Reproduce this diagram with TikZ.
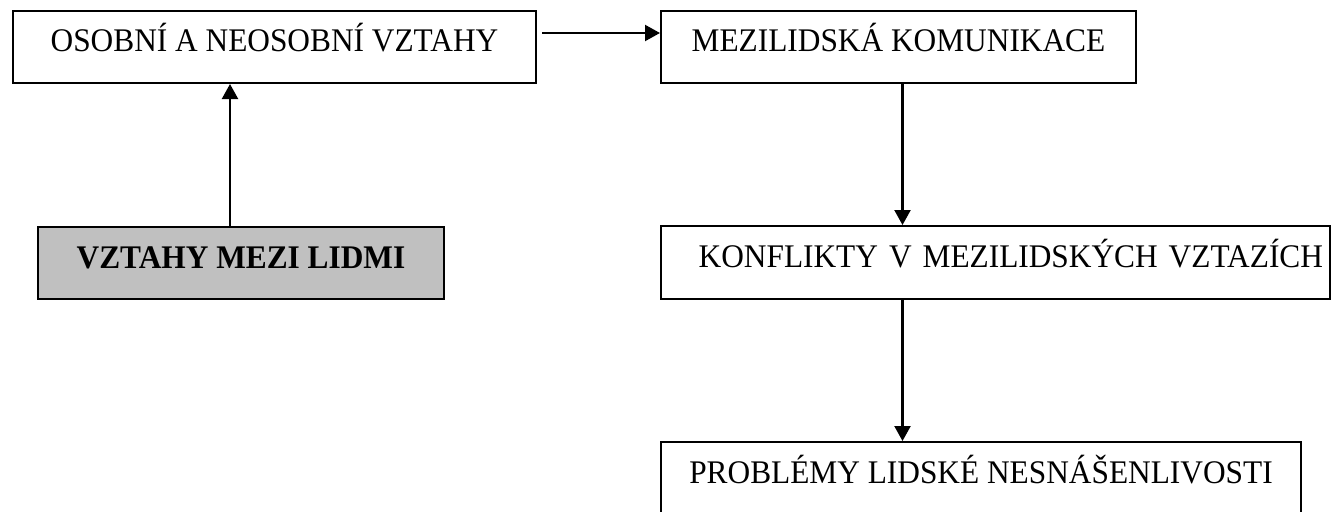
\documentclass[tikz,border=0pt]{standalone}
\usepackage{fontspec}
\setmainfont[FakeStretch=0.95]{Liberation Serif}
\usetikzlibrary{arrows.meta}
\begin{document}
\begin{tikzpicture}[x=1pt,y=-1pt,
  box/.style={draw=black, line width=2pt, inner sep=0pt, text height=41pt, text depth=31pt,
    font=\fontsize{33}{38}\selectfont},
  arr/.style={line width=2.2pt, -{Triangle[length=15pt,width=16pt]}}]
\clip (0,0) rectangle (1332,511);
\useasboundingbox (0,0) rectangle (1332,511);
\node[box, minimum width=523pt] (osobni) at (274.5,47) {OSOBNÍ A NEOSOBNÍ VZTAHY};
\node[box, minimum width=475pt] (mezi) at (898.5,47) {MEZILIDSKÁ KOMUNIKACE};
\node[box, minimum width=406pt, fill={rgb,255:red,192;green,192;blue,192}, font=\fontsize{33}{38}\selectfont\bfseries] (vztahy) at (241,263) {VZTAHY MEZI LIDMI};
\node[box, text depth=32pt, text width=655pt, align=right, minimum width=669pt] (konf) at (995.5,262.5) {KONFLIKTY V MEZILIDSKÝCH VZTAZÍCH};
\node[box, minimum width=640pt] (probl) at (981,478) {PROBLÉMY LIDSKÉ NESNÁŠENLIVOSTI};
\coordinate (c0) at ([xshift=-11pt]vztahy.north);
\coordinate (c1) at ([xshift=4pt]mezi.south);
\draw[arr] (c0) -- (c0 |- osobni.south);
\draw[arr] ([xshift=5pt,yshift=14pt]osobni.east) -- ([yshift=14pt]mezi.west);
\draw[arr] (c1) -- (c1 |- konf.north);
\draw[arr] (c1 |- konf.south) -- (c1 |- probl.north);
\end{tikzpicture}
\end{document}
